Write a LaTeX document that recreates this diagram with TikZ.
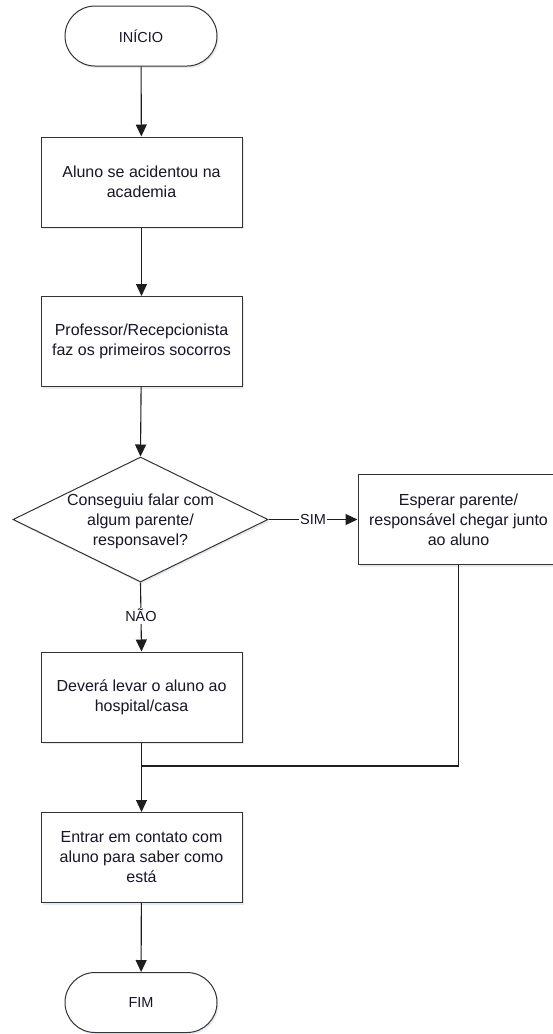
\documentclass[tikz,border=0pt]{standalone}
\usepackage{fontspec}
\setmainfont{Liberation Sans}
\usetikzlibrary{arrows.meta,shapes.geometric,shadows}

\definecolor{linec}{HTML}{333333}
\definecolor{wirec}{HTML}{1E1E1E}
\definecolor{textc}{HTML}{161628}
\definecolor{shadowc}{HTML}{B8C6DC}

\begin{document}
\begin{tikzpicture}[x=1pt,y=-1pt,
  softshadow/.style={drop shadow={shadow xshift=1.5pt,shadow yshift=-2pt,opacity=0.35,fill=shadowc}},
  proc/.style={draw=linec,line width=1pt,fill=white,softshadow,
    minimum width=201pt,minimum height=90pt,inner sep=0pt,align=center,
    text=textc,font=\fontsize{16}{20}\selectfont},
  term/.style={proc,rounded corners=30pt,minimum width=152pt,minimum height=60pt,
    font=\fontsize{14.5}{17}\selectfont},
  decision/.style={draw=linec,line width=1pt,fill=white,softshadow,diamond,
    minimum width=255pt,minimum height=125pt,inner sep=0pt},
  dtext/.style={align=center,inner sep=0pt,text=textc,font=\fontsize{16}{20}\selectfont},
  flow/.style={draw=wirec,line width=1.1pt,-{Triangle[length=12pt,width=11pt]}},
  link/.style={draw=wirec,line width=1.1pt},
  lbl/.style={fill=white,inner sep=1.5pt,text=textc,font=\fontsize{14.5}{17}\selectfont}]

\useasboundingbox[fill=white] (0,0) rectangle (553,1034);

% nodes of the flow
\node[term] (start) at (141,36) {INÍCIO};
\node[proc] (b1) at (141.5,182) {Aluno se acidentou na\\academia};
\node[proc] (b2) at (141.5,341.5) {Professor/Recepcionista\\faz os primeiros socorros};
\node[decision] (dec) at (140.5,519.5) {};
\node[dtext] (dect) at (140.5,521) {Conseguiu falar com\\algum parente/\\responsavel?};
\node[proc] (b3) at (458.5,519.5) {Esperar parente/\\responsável chegar junto\\ao aluno};
\node[proc] (b4) at (141.5,697) {Deverá levar o aluno ao\\hospital/casa};
\node[proc] (b5) at (141.5,857.5) {Entrar em contato com\\aluno para saber como\\está};
\node[term] (end) at (141,1002.5) {FIM};

% merge point of the two branches
\coordinate (j) at (141.5,766);

% connectors
\draw[flow] (start) -- (b1);
\draw[flow] (b1) -- (b2);
\draw[flow] (b2) -- (dec.north);
\draw[flow] (dec.east) -- node[lbl] (sim) {SIM} (b3.west);
\draw[flow] (dec.south) -- node[lbl,pos=0.48] (nao) {NÃO} (b4.north);
\draw[link] (b3.south) |- (j);
\draw[flow] (b4.south) -- (b5.north);
\draw[flow] (b5) -- (end);

\end{tikzpicture}
\end{document}
